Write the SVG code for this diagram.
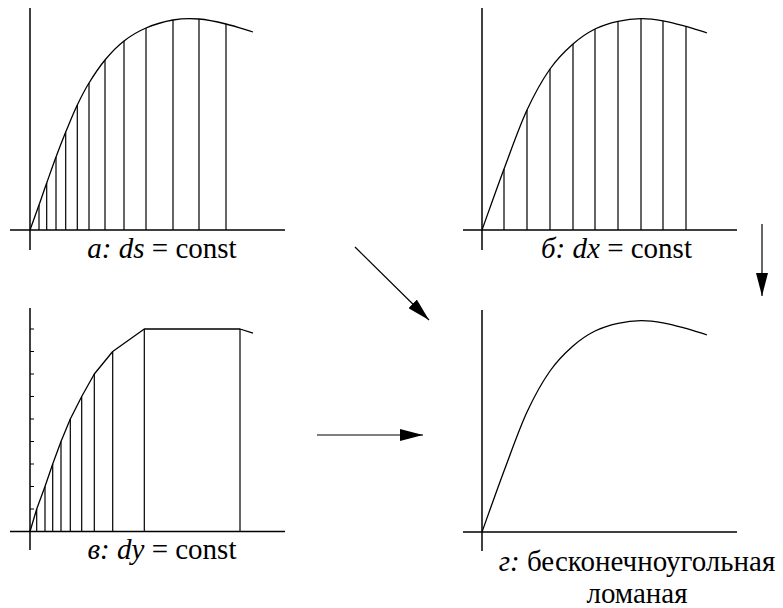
<svg xmlns="http://www.w3.org/2000/svg" width="783" height="608" viewBox="0 0 783 608">
<style>
.axis{stroke:#000;stroke-width:1.5;fill:none}
.curve{stroke:#000;stroke-width:1.3;fill:none;stroke-linejoin:round}
.ord{stroke:#000;stroke-width:1.2;fill:none}
.conn{stroke:#000;stroke-width:1.2;fill:none}
</style>
<defs>
<marker id="ah" viewBox="0 0 23 12" markerWidth="23" markerHeight="12" refX="23" refY="6" orient="auto" markerUnits="userSpaceOnUse">
<path d="M0,0 L23,6 L0,12 z" fill="#000"/>
</marker>
<path id="cb" d="M0,0 C7.3,20.3 14.7,41.4 22,61 C29.7,81.5 37.3,103.4 45,120 C52.7,136.6 60.3,150 68,161 C75.7,172 83.3,179.2 91,186 C98.3,192.5 105.7,197.3 113,201 C120.7,204.8 128.3,206.9 136,208.6 C143.7,210.3 151.3,211.3 159,211.4 C166.3,211.5 173.7,210.5 181,209.2 C188.7,207.9 196.3,205.7 204,203.6 C211,201.7 218,199.2 225,197"/>
</defs>

<g id="panel-a">
<line class="axis" x1="30" y1="8" x2="30" y2="250"/>
<line class="axis" x1="10" y1="230" x2="285" y2="230"/>
<g transform="translate(30,230) scale(1,-1)">
<path class="curve" d="M0,0 C3,8.4 6,16.6 9,25 C11.6,32.2 14.1,39.8 16.7,47 C19.8,55.7 22.9,64.7 26,73 C29.2,81.7 32.5,90.1 35.7,98 C39.6,107.4 43.4,116.9 47.3,125 C51.2,133.2 55.1,140.7 59,147 C64.3,155.6 69.7,163.6 75,170 C81.3,177.6 87.7,184.1 94,189 C101.3,194.7 108.7,198.9 116,202 C125,205.9 134,208.5 143,210 C151.7,211.5 160.3,211.7 169,211 C178,210.3 187,208.2 196,206 C205,203.8 214,200.7 223,198"/>
<path class="ord" d="M9,0V25 M16.7,0V47 M26,0V73 M35.7,0V98 M47.3,0V125 M59,0V147 M75,0V170 M94,0V189 M116,0V202 M143,0V210 M169,0V211 M196,0V206"/>
</g>
<text x="162" y="258" text-anchor="middle" font-family="'Liberation Serif', 'Times New Roman', 'DejaVu Serif', serif" font-size="29"><tspan font-style="italic">а: ds</tspan> = const</text>
</g>

<g id="panel-b">
<line class="axis" x1="482" y1="8" x2="482" y2="250"/>
<line class="axis" x1="463" y1="230" x2="737" y2="230"/>
<g transform="translate(482,230) scale(1,-1)">
<use href="#cb" class="curve"/>
<path class="ord" d="M22,0V61 M45,0V120 M68,0V161 M91,0V186 M113,0V201 M136,0V208.6 M159,0V211.4 M181,0V209.2 M204,0V203.6"/>
</g>
<text x="616.5" y="258" text-anchor="middle" font-family="'Liberation Serif', 'Times New Roman', 'DejaVu Serif', serif" font-size="29"><tspan font-style="italic">б: dx</tspan> = const</text>
</g>

<g id="panel-v">
<line class="axis" x1="30" y1="308" x2="30" y2="550"/>
<line class="axis" x1="10" y1="531.5" x2="285" y2="531.5"/>
<g transform="translate(30,531.5) scale(1,-1)">
<path class="ord" d="M0,22.5H4 M0,45H4 M0,67.5H4 M0,90H4 M0,112.5H4 M0,135H4 M0,157.5H4 M0,180H4 M0,202.5H4"/>
<path class="curve" d="M0,0 L6.7,22.5 L15,45 L22.7,67.5 L31,90 L40.3,112.5 L51.7,135 L64.3,157.5 L82.7,180 L114.3,202.5 L210,202.5 L223,198.3"/>
<path class="ord" d="M6.7,0V22.5 M15,0V45 M22.7,0V67.5 M31,0V90 M40.3,0V112.5 M51.7,0V135 M64.3,0V157.5 M82.7,0V180 M114.3,0V202.5 M210,0V202.5"/>
</g>
<text x="162" y="559" text-anchor="middle" font-family="'Liberation Serif', 'Times New Roman', 'DejaVu Serif', serif" font-size="29"><tspan font-style="italic">в: dy</tspan> = const</text>
</g>

<g id="panel-g">
<line class="axis" x1="482" y1="310" x2="482" y2="551"/>
<line class="axis" x1="463" y1="532" x2="737" y2="532"/>
<g transform="translate(482,532) scale(1,-1)">
<use href="#cb" class="curve"/>
</g>
<text x="637" y="571" text-anchor="middle" font-family="'Liberation Serif', 'Times New Roman', 'DejaVu Serif', serif" font-size="29"><tspan font-style="italic">г:</tspan> бесконечноугольная</text>
<text x="637" y="603" text-anchor="middle" font-family="'Liberation Serif', 'Times New Roman', 'DejaVu Serif', serif" font-size="29">ломаная</text>
</g>

<g id="connectors">
<line class="conn" x1="355" y1="247" x2="429" y2="320" marker-end="url(#ah)"/>
<line class="conn" x1="317" y1="435" x2="423" y2="435" marker-end="url(#ah)"/>
<line class="conn" x1="762" y1="224" x2="762" y2="296" marker-end="url(#ah)"/>
</g>
</svg>
